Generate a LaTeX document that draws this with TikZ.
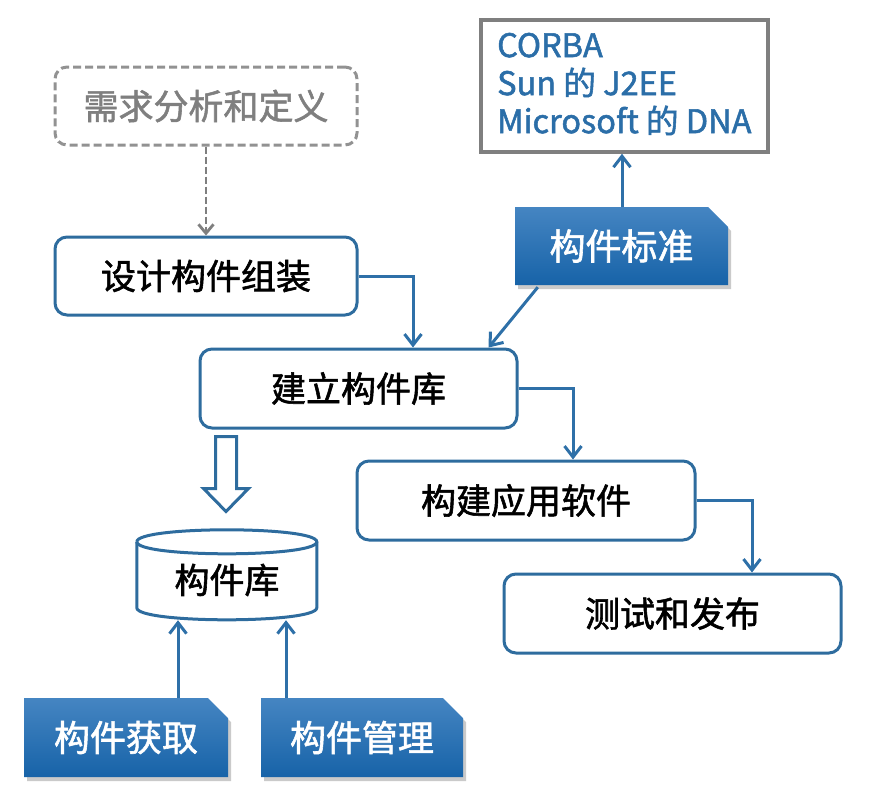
\documentclass[tikz,border=0pt]{standalone}
\usepackage{fontspec}
\setmainfont{Noto Sans CJK SC}[RawFeature={embolden=1.6}]
\usetikzlibrary{arrows.meta,shapes.misc,shadows,calc}
\definecolor{bline}{HTML}{2E6C9E}
\definecolor{arrc}{HTML}{2E70A8}
\definecolor{gline}{HTML}{7F7F7F}
\definecolor{btop}{HTML}{4585C2}
\definecolor{bbot}{HTML}{1763A8}
\definecolor{btxt}{HTML}{2B6EA8}
\tikzset{
  wbox/.style={draw=bline, line width=3pt, rounded corners=12pt, fill=white,
    font=\fontsize{35}{40}\selectfont, text=black, inner sep=0pt},
  dbox/.style={draw=gline!85, line width=3pt, dash pattern=on 8pt off 4pt,
    rounded corners=12pt, font=\fontsize{35}{40}\selectfont, text=gline, inner sep=0pt},
  bluebox/.style={chamfered rectangle, chamfered rectangle corners=north east,
    chamfered rectangle xsep=10pt, chamfered rectangle ysep=10pt,
    top color=btop, bottom color=bbot, draw=none, text=white,
    font=\fontsize{36}{40}\selectfont, inner sep=0pt,
    drop shadow={shadow xshift=3pt, shadow yshift=-4pt, opacity=0.35, fill=black!60}},
  arr/.style={draw=arrc, line width=3pt, -{Straight Barb[length=11pt,width=17pt,line width=3pt]}},
  darr/.style={draw=gline, line width=2.8pt, dash pattern=on 7pt off 3pt,
    -{Straight Barb[length=9pt,width=15pt,line width=2.8pt]}},
}
\begin{document}
\begin{tikzpicture}[x=1pt,y=-1pt]
\useasboundingbox (0,0) rectangle (883,798);
% nodes
\node[dbox, minimum width=302pt, minimum height=78pt] (req) at (206,106) {需求分析和定义};
\node[wbox, minimum width=302pt, minimum height=78pt] (design) at (206,276) {设计构件组装};
\node[wbox, minimum width=317pt, minimum height=79pt] (build) at (358.5,388.5) {建立构件库};
\node[draw=gline, line width=3.5pt, fill=white, minimum width=287pt, minimum height=132pt] (corba) at (624.5,86) {};
\node[anchor=west, text=btxt, align=left, inner sep=0pt,
  font=\fontsize{32.5}{38}\selectfont] (corbatext) at (497,84) {CORBA\\Sun 的 J2EE\\Microsoft 的 DNA};
\node[bluebox, minimum width=213pt, minimum height=78pt] (std) at (621.5,246) {构件标准};
\node[wbox, minimum width=338pt, minimum height=79pt] (app) at (526,500.5) {构建应用软件};
\node[wbox, minimum width=337pt, minimum height=79pt] (test) at (672.5,613.5) {测试和发布};
\node[bluebox, minimum width=204pt, minimum height=79pt] (get) at (126,737.5) {构件获取};
\node[bluebox, minimum width=202pt, minimum height=79pt] (mgmt) at (362,737.5) {构件管理};
% cylinder
\node[minimum width=180pt, minimum height=90pt, inner sep=0pt] (lib) at (227,575) {};
\draw[bline, line width=3pt, fill=white]
  (lib.north west) ++(0,12) coordinate (cl)
  (cl) -- ++(0,66) .. controls ++(0,16) and ++(0,16) .. ++(180,0) -- ++(0,-66);
\draw[bline, line width=3pt]
  (cl) .. controls ++(0,-16) and ++(0,-16) .. ++(180,0)
       .. controls ++(0,16) and ++(0,16) .. (cl);
\node[font=\fontsize{35}{40}\selectfont, text=black] (libtext) at (227,580) {构件库};
% hollow arrow
\draw[bline, line width=3pt, fill=white, line join=miter]
  ($(build.south west)+(17,7)$) -- ++(21,0) -- ++(0,52) -- ++(12,0) -- ++(-22.5,23)
  -- ++(-22.5,-23) -- ++(12,0) -- cycle;
% connectors
\draw[darr] (req.south) -- (design.north);
\draw[arr] (design.east) -| ([xshift=54.5pt]build.north);
\draw[arr] ([xshift=23pt,yshift=-2pt]std.south west) -- ([xshift=-30pt]build.north east);
\draw[arr] ([xshift=0.5pt]std.north) -- ([xshift=0.5pt]std.north |- corba.south);
\draw[arr] (build.east) -| ([xshift=47pt]app.north);
\draw[arr] (app.east) -| ([xshift=79.5pt]test.north);
\draw[arr] ([xshift=52pt]get.north) -- ([xshift=52pt]get.north |- lib.south);
\draw[arr] ([xshift=-76pt]mgmt.north) -- ([xshift=-76pt]mgmt.north |- lib.south);
\end{tikzpicture}
\end{document}
